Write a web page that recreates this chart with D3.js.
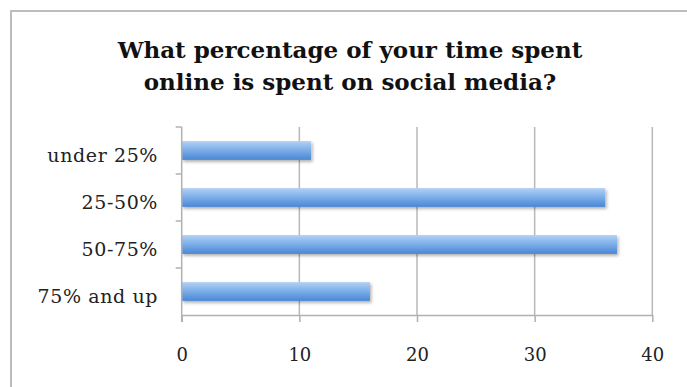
<!DOCTYPE html>
<html>
<head>
<meta charset="utf-8">
<script src="https://cdn.jsdelivr.net/npm/d3@7/dist/d3.min.js"></script>
<style>
  body { margin: 0; background: #fff; }
  svg { display: block; }
</style>
</head>
<body>
<div id="chart"></div>
<script>
var categories = ["under 25%", "25-50%", "50-75%", "75% and up"];
var values = [11, 36, 37, 16];
var xTicks = [0, 10, 20, 30, 40];
var titleLines = ["What percentage of your time spent", "online is spent on social media?"];

var width = 687, height = 387;
var plot = { left: 181.7, right: 652.3, top: 127, bottom: 315 };
var fontFam = "'DejaVu Serif', 'Liberation Serif', serif";

var svg = d3.select("#chart").append("svg")
    .attr("width", width)
    .attr("height", height);

var defs = svg.append("defs");
var grad = defs.append("linearGradient")
    .attr("id", "barGrad")
    .attr("x1", 0).attr("y1", 0).attr("x2", 0).attr("y2", 1);
grad.append("stop").attr("offset", "0%").attr("stop-color", "#b3d1f5");
grad.append("stop").attr("offset", "45%").attr("stop-color", "#7eb0ea");
grad.append("stop").attr("offset", "100%").attr("stop-color", "#4a87d3");

var shadow = defs.append("filter").attr("id", "shadow")
    .attr("x", "-5%").attr("y", "-30%").attr("width", "115%").attr("height", "180%");
shadow.append("feDropShadow")
    .attr("dx", 1.5).attr("dy", 2).attr("stdDeviation", 1.5)
    .attr("flood-color", "#000").attr("flood-opacity", 0.3);

// chart frame
svg.append("rect")
    .attr("x", 11).attr("y", 11)
    .attr("width", 700).attr("height", 400)
    .attr("fill", "#fff")
    .attr("stroke", "#bdbdbd")
    .attr("stroke-width", 2);

// title
svg.append("text")
    .attr("x", 350)
    .attr("text-anchor", "middle")
    .attr("font-family", fontFam)
    .attr("font-weight", "bold")
    .attr("font-size", 23)
    .attr("fill", "#111")
    .selectAll("tspan")
    .data(titleLines)
    .enter().append("tspan")
    .attr("x", 350)
    .attr("y", function(d, i) { return 58.3 + i * 32; })
    .text(function(d) { return d; });

var x = d3.scaleLinear().domain([0, 40]).range([plot.left, plot.right]);
var y = d3.scaleBand().domain(categories).range([plot.top, plot.bottom]).paddingInner(0.6).paddingOuter(0.3);

// gridlines
svg.append("g")
    .selectAll("line")
    .data(xTicks.slice(1))
    .enter().append("line")
    .attr("x1", function(d) { return x(d); })
    .attr("x2", function(d) { return x(d); })
    .attr("y1", plot.top)
    .attr("y2", plot.bottom)
    .attr("stroke", "#b8b8b8")
    .attr("stroke-width", 1.5);

// bars
svg.append("g")
    .selectAll("rect")
    .data(values)
    .enter().append("rect")
    .attr("x", x(0))
    .attr("y", function(d, i) { return y(categories[i]); })
    .attr("width", function(d) { return x(d) - x(0); })
    .attr("height", y.bandwidth())
    .attr("fill", "url(#barGrad)")
    .attr("filter", "url(#shadow)");

// x axis
var xAxis = svg.append("g")
    .attr("transform", "translate(0," + plot.bottom + ")")
    .call(d3.axisBottom(x).tickValues(xTicks).tickSize(7).tickSizeOuter(0).tickPadding(26));
xAxis.select(".domain").attr("stroke", "#b0b0b0").attr("stroke-width", 1.5);
xAxis.selectAll(".tick line").attr("stroke", "#b0b0b0").attr("stroke-width", 1.5);
xAxis.selectAll("text")
    .attr("font-family", fontFam)
    .attr("font-size", 18)
    .attr("fill", "#222");

// y axis with boundary ticks
var yAxisG = svg.append("g");
yAxisG.append("line")
    .attr("x1", x(0)).attr("x2", x(0))
    .attr("y1", plot.top).attr("y2", plot.bottom + 7)
    .attr("stroke", "#b0b0b0").attr("stroke-width", 1.5);
var step = (plot.bottom - plot.top) / categories.length;
yAxisG.selectAll(".bt")
    .data(d3.range(categories.length))
    .enter().append("line")
    .attr("class", "bt")
    .attr("x1", x(0) - 6).attr("x2", x(0))
    .attr("y1", function(d) { return plot.top + d * step; })
    .attr("y2", function(d) { return plot.top + d * step; })
    .attr("stroke", "#b0b0b0").attr("stroke-width", 1.5);

yAxisG.selectAll(".cl")
    .data(categories)
    .enter().append("text")
    .attr("class", "cl")
    .attr("x", 158)
    .attr("y", function(d) { return y(d) + y.bandwidth() / 2 + 11; })
    .attr("text-anchor", "end")
    .attr("font-family", fontFam)
    .attr("font-size", 19)
    .attr("letter-spacing", 0.6)
    .attr("fill", "#222")
    .text(function(d) { return d; });
</script>
</body>
</html>
